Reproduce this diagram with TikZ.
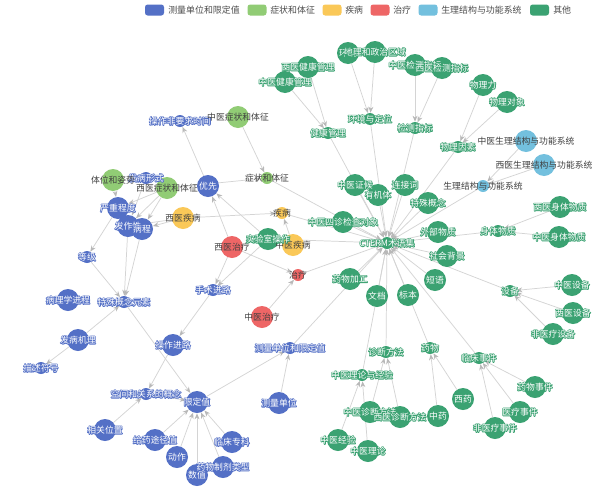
\documentclass[tikz,border=0pt]{standalone}
\usepackage{fontspec}
\setmainfont{Noto Sans CJK SC}
\usetikzlibrary{arrows.meta}
\definecolor{cb}{HTML}{5470C6}
\definecolor{cg}{HTML}{91CC75}
\definecolor{cy}{HTML}{FAC858}
\definecolor{cr}{HTML}{EE6666}
\definecolor{cl}{HTML}{73C0DE}
\definecolor{cd}{HTML}{3BA272}
\definecolor{edgec}{HTML}{D4D4D4}
\definecolor{arrc}{HTML}{B8B8B8}
\pgfdeclarelayer{edg}
\pgfdeclarelayer{lab}
\pgfsetlayers{edg,main,lab}
\newcommand\W[2]{\rlap{\special{pdf:literal direct 1 Tr 1.1 w 1 J 1 j}\textcolor{#1}{#2}\special{pdf:literal direct 0 Tr}}\textcolor{white}{#2}}
\newcommand\D[1]{\textcolor{black!75}{#1}}
\newcommand\mk[5]{\node[#2] (#1) at (#3,#4) {};\begin{pgfonlayer}{lab}\node[lbl] at (#1) {#5};\end{pgfonlayer}}
\tikzset{
  big/.style={circle,inner sep=0pt,minimum size=16.5pt,draw=none},
  small/.style={circle,inner sep=0pt,minimum size=9pt,draw=none},
  lbl/.style={inner sep=0pt,font=\fontsize{6.6}{7}\selectfont},
  edge/.style={draw=edgec,line width=0.55pt,-{Stealth[length=4.5pt,width=3.6pt,color=arrc,fill=arrc]}},
  sw/.style={rounded corners=2pt,minimum width=14.25pt,minimum height=8.25pt,inner sep=0pt},
  lgt/.style={anchor=west,inner sep=0pt,text=black!70,font=\fontsize{6.7}{7}\selectfont}
}
\begin{document}
\begin{tikzpicture}[x=0.75pt,y=-0.75pt]
\useasboundingbox (0,0) rectangle (610,500);
% legend
\node[sw,fill=cb] (lg1) at (154.5,10) {};
\node[lgt] (lt1) at (168,10) {测量单位和限定值};
\node[sw,fill=cg] (lg2) at (257,10) {};
\node[lgt] (lt2) at (270,10) {症状和体征};
\node[sw,fill=cy] (lg3) at (332,10) {};
\node[lgt] (lt3) at (345,10) {疾病};
\node[sw,fill=cr] (lg4) at (380,10) {};
\node[lgt] (lt4) at (393,10) {治疗};
\node[sw,fill=cl] (lg5) at (428,10) {};
\node[lgt] (lt5) at (441,10) {生理结构与功能系统};
\node[sw,fill=cd] (lg6) at (539.5,10) {};
\node[lgt] (lt6) at (553,10) {其他};
% blue nodes
\mk{yx}{big,fill=cb}{208}{186}{\W{cb}{优先}}
\mk{czf}{small,fill=cb}{180}{121}{\W{cb}{操作非要求时间}}
\mk{fbxs}{small,fill=cb}{146}{178}{\W{cb}{发病形式}}
\mk{yzcd}{big,fill=cb}{118}{208}{\W{cb}{严重程度}}
\mk{fzx}{big,fill=cb}{128}{226}{\W{cb}{发作性}}
\mk{bc}{big,fill=cb}{142}{229}{\W{cb}{病程}}
\mk{dj}{small,fill=cb}{87}{257}{\W{cb}{等级}}
\mk{blx}{big,fill=cb}{68}{300}{\W{cb}{病理学进程}}
\mk{tsgn}{small,fill=cb}{124}{302}{\W{cb}{特殊概念元素}}
\mk{fbjl}{big,fill=cb}{78}{340}{\W{cb}{发病机理}}
\mk{msfh}{small,fill=cb}{41}{368}{\W{cb}{描述符号}}
\mk{ssjl}{small,fill=cb}{213}{290}{\W{cb}{手术进路}}
\mk{czjl}{big,fill=cb}{173}{345}{\W{cb}{操作进路}}
\mk{kjgx}{small,fill=cb}{146}{394}{\W{cb}{空间和关系的概念}}
\mk{xdz}{big,fill=cb}{197}{402}{\W{cb}{限定值}}
\mk{xgwz}{big,fill=cb}{105}{430}{\W{cb}{相关位置}}
\mk{gytj}{big,fill=cb}{155}{440}{\W{cb}{给药途径值}}
\mk{dz}{big,fill=cb}{177}{457}{\W{cb}{动作}}
\mk{sz}{big,fill=cb}{197}{475}{\W{cb}{数值}}
\mk{ywzj}{big,fill=cb}{223}{467}{\W{cb}{药物制剂类型}}
\mk{lczk}{big,fill=cb}{232}{442}{\W{cb}{临床专科}}
\mk{cldw}{big,fill=cb}{279}{403}{\W{cb}{测量单位}}
\mk{cldwx}{small,fill=cb}{290}{348}{\W{cb}{测量单位和限定值}}
% light green
\mk{twzs}{big,fill=cg}{113}{180}{\D{体位和姿势}}
\mk{xyzz}{big,fill=cg}{167}{188}{\D{西医症状和体征}}
\mk{zyzz}{big,fill=cg}{238}{117}{\D{中医症状和体征}}
\mk{zztz}{small,fill=cg}{267}{178}{\D{症状和体征}}
% yellow
\mk{xyjb}{big,fill=cy}{183}{218}{\D{西医疾病}}
\mk{zyjb}{big,fill=cy}{293}{245}{\D{中医疾病}}
\mk{jb}{small,fill=cy}{282}{213}{\D{疾病}}
% red
\mk{xyzl}{big,fill=cr}{232}{247}{\D{西医治疗}}
\mk{zyzl}{big,fill=cr}{262}{317}{\D{中医治疗}}
\mk{zl}{small,fill=cr}{298}{275}{\D{治疗}}
% light blue
\mk{zysl}{big,fill=cl}{526}{141}{\D{中医生理结构与功能系统}}
\mk{xysl}{big,fill=cl}{544}{165}{\D{西医生理结构与功能系统}}
\mk{sljg}{small,fill=cl}{483}{186}{\D{生理结构与功能系统}}
% dark green
\mk{sys}{big,fill=cd}{268}{239}{\W{cd}{实验室操作}}
\mk{cterm}{small,fill=cd}{387}{243}{\W{cd}{CTERM术语集}}
\mk{zysz}{big,fill=cd}{343}{222}{\W{cd}{中医四诊检查对象}}
\mk{hj}{big,fill=cd}{348}{53}{\W{cd}{环境}}
\mk{dlzz}{big,fill=cd}{375}{52}{\W{cd}{地理和政治区域}}
\mk{xyjk}{big,fill=cd}{308}{67}{\W{cd}{西医健康管理}}
\mk{zyjk}{big,fill=cd}{285}{82}{\W{cd}{中医健康管理}}
\mk{zyjc}{big,fill=cd}{415}{65}{\W{cd}{中医检测指标}}
\mk{xyjc}{big,fill=cd}{442}{68}{\W{cd}{西医检测指标}}
\mk{hjdw}{small,fill=cd}{370}{119}{\W{cd}{环境与定位}}
\mk{jkgl}{small,fill=cd}{328}{133}{\W{cd}{健康管理}}
\mk{jczb}{small,fill=cd}{415}{128}{\W{cd}{检测指标}}
\mk{wlys}{small,fill=cd}{458}{147}{\W{cd}{物理因素}}
\mk{wll}{big,fill=cd}{483}{85}{\W{cd}{物理力}}
\mk{wldx}{big,fill=cd}{507}{102}{\W{cd}{物理对象}}
\mk{zyzh}{big,fill=cd}{355}{185}{\W{cd}{中医证候}}
\mk{yjt}{big,fill=cd}{378}{195}{\W{cd}{有机体}}
\mk{ljc}{big,fill=cd}{405}{185}{\W{cd}{连接词}}
\mk{tsgn2}{big,fill=cd}{428}{203}{\W{cd}{特殊概念}}
\mk{wbwz}{big,fill=cd}{438}{232}{\W{cd}{外部物质}}
\mk{shbj}{big,fill=cd}{447}{256}{\W{cd}{社会背景}}
\mk{xysw}{big,fill=cd}{560}{207}{\W{cd}{西医身体物质}}
\mk{zysw}{big,fill=cd}{559}{237}{\W{cd}{中医身体物质}}
\mk{stwz}{small,fill=cd}{498}{231}{\W{cd}{身体物质}}
\mk{dy}{big,fill=cd}{435}{280}{\W{cd}{短语}}
\mk{bb}{big,fill=cd}{408}{295}{\W{cd}{标本}}
\mk{wd}{big,fill=cd}{377}{296}{\W{cd}{文档}}
\mk{ywjg}{big,fill=cd}{350}{279}{\W{cd}{药物加工}}
\mk{sb}{small,fill=cd}{510}{291}{\W{cd}{设备}}
\mk{zysb}{big,fill=cd}{572}{285}{\W{cd}{中医设备}}
\mk{xysb}{big,fill=cd}{573}{313}{\W{cd}{西医设备}}
\mk{fylsb}{big,fill=cd}{553}{334}{\W{cd}{非医疗设备}}
\mk{lcsj}{small,fill=cd}{479}{358}{\W{cd}{临床事件}}
\mk{ywsj}{big,fill=cd}{535}{387}{\W{cd}{药物事件}}
\mk{ylsj}{big,fill=cd}{520}{412}{\W{cd}{医疗事件}}
\mk{fylsj}{big,fill=cd}{495}{428}{\W{cd}{非医疗事件}}
\mk{yw}{small,fill=cd}{430}{348}{\W{cd}{药物}}
\mk{xy}{big,fill=cd}{463}{399}{\W{cd}{西药}}
\mk{zy}{big,fill=cd}{438}{416}{\W{cd}{中药}}
\mk{zdff}{small,fill=cd}{386}{352}{\W{cd}{诊断方法}}
\mk{zyzd}{big,fill=cd}{370}{412}{\W{cd}{中医诊断方法}}
\mk{xyzd}{big,fill=cd}{400}{417}{\W{cd}{西医诊断方法}}
\mk{zyll}{small,fill=cd}{362}{375}{\W{cd}{中医理论与经验}}
\mk{zyjy}{big,fill=cd}{338}{440}{\W{cd}{中医经验}}
\mk{zylun}{big,fill=cd}{368}{451}{\W{cd}{中医理论}}
% edges
\begin{pgfonlayer}{edg}
\fill[white] (0,0) rectangle (610,500);
\foreach \a/\b in {cldw/cldwx,xdz/cldwx,cldwx/cterm,
 gytj/xdz,dz/xdz,sz/xdz,ywzj/xdz,lczk/xdz,kjgx/xdz,tsgn/xdz,
 xgwz/kjgx,czjl/kjgx,ssjl/czjl,
 fbjl/tsgn,fbjl/msfh,dj/tsgn,fzx/tsgn,bc/tsgn,yzcd/dj,
 twzs/yzcd,xyzz/yzcd,xyzz/fzx,xyzz/bc,xyjb/fzx,xyjb/bc,fbxs/fzx,
 xyzl/yx,sys/yx,yx/czf,xyzl/ssjl,sys/ssjl,
 xyzz/zztz,zyzz/zztz,zztz/cterm,
 xyjb/jb,zyjb/jb,jb/cterm,
 xyzl/zl,zyzl/zl,zl/cterm,
 sys/cterm,zysz/cterm,
 xyjk/jkgl,zyjk/jkgl,jkgl/cterm,
 hj/hjdw,dlzz/hjdw,hjdw/cterm,
 zyjc/jczb,xyjc/jczb,jczb/cterm,
 wll/wlys,wldx/wlys,wlys/cterm,
 zysl/sljg,xysl/sljg,sljg/cterm,
 xysw/stwz,zysw/stwz,stwz/cterm,
 zyzh/cterm,yjt/cterm,ljc/cterm,tsgn2/cterm,wbwz/cterm,shbj/cterm,
 dy/cterm,bb/cterm,wd/cterm,ywjg/cterm,
 zysb/sb,xysb/sb,fylsb/sb,sb/cterm,
 ywsj/lcsj,ylsj/lcsj,fylsj/lcsj,lcsj/cterm,
 zy/yw,xy/yw,yw/cterm,
 zyzd/zdff,xyzd/zdff,zdff/cterm,
 zyjy/zyll,zylun/zyll,zyll/cterm}
 \draw[edge] (\a) -- (\b);
\end{pgfonlayer}
\end{tikzpicture}
\end{document}
